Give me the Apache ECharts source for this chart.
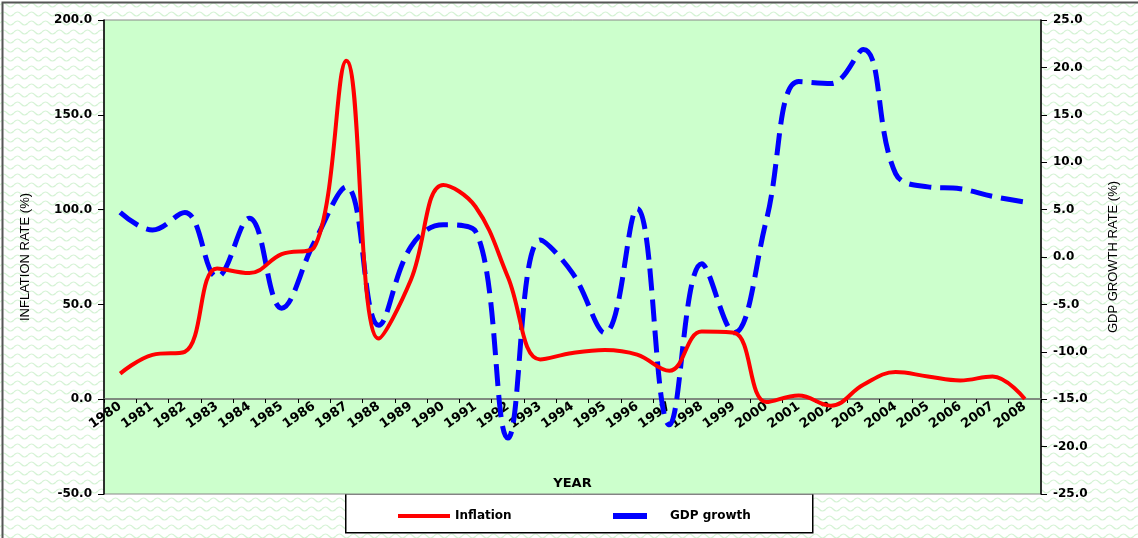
<!DOCTYPE html>
<html>
<head>
<meta charset="utf-8">
<script src="https://cdn.jsdelivr.net/npm/echarts@6/dist/echarts.min.js"></script>
<style>
  html, body { margin: 0; padding: 0; background: #fff; }
  #chart { width: 1138px; height: 538px; }
</style>
</head>
<body>
<div id="chart"></div>
<script>
// categories and values
const years = ['1980', '1981', '1982', '1983', '1984', '1985', '1986', '1987', '1988', '1989',
  '1990', '1991', '1992', '1993', '1994', '1995', '1996', '1997', '1998', '1999',
  '2000', '2001', '2002', '2003', '2004', '2005', '2006', '2007', '2008'];
const inflation = [13.5, 23.4, 25, 69, 66.5, 76.5, 80, 178.5, 32, 63,
  113, 101.5, 64.5, 21, 24.4, 26, 23.5, 15, 35.7, 35,
  -1.5, 2, -3.4, 7.6, 14.3, 12, 9.9, 12, 0.1];
const gdpGrowth = [4.7, 2.85, 4.7, -2.1, 4.1, -5.4, 1.5, 7.4, -7.2, 1.1,
  3.4, 2.7, -19.1, 1.8, -1.7, -8, 5.1, -17.7, -0.7, -8,
  3.9, 18.5, 18.3, 21.9, 8.8, 7.4, 7.2, 6.4, 5.8];

// pale wavy texture for the outer background
const pat = document.createElement('canvas');
pat.width = 14; pat.height = 9;
const pc = pat.getContext('2d');
pc.fillStyle = '#ffffff';
pc.fillRect(0, 0, 14, 9);
pc.strokeStyle = '#d6f3d6';
pc.lineWidth = 1.2;
pc.beginPath();
pc.moveTo(0, 5);
pc.quadraticCurveTo(3.5, 1, 7, 5);
pc.quadraticCurveTo(10.5, 9, 14, 5);
pc.stroke();

const chart = echarts.init(document.getElementById('chart'));
// the original text is wide and bold, DejaVu Sans is the closest match
const font = '"DejaVu Sans", Verdana, sans-serif';
const narrow = '"Liberation Sans Narrow", "Arial Narrow", Arial, sans-serif';

const option = {
  animation: false,
  backgroundColor: { image: pat, repeat: 'repeat' },
  grid: {
    left: 104, right: 97, top: 20, bottom: 44,
    containLabel: false, outerBoundsMode: 'none',
    show: true, backgroundColor: '#ccffcc', borderColor: '#888', borderWidth: 1
  },
  xAxis: {
    type: 'category',
    data: years,
    boundaryGap: true,
    position: 'bottom',
    offset: -95,   // sits on the 0.0 line of the left axis
    name: 'YEAR',
    nameLocation: 'middle',
    nameGap: 78,
    nameTextStyle: { fontFamily: font, fontWeight: 'bold', fontSize: 13, color: '#000' },
    axisLine: { onZero: false, lineStyle: { color: '#666', width: 1.5 } },
    axisTick: { show: true, length: 4, lineStyle: { color: '#000' } },
    axisLabel: { rotate: 35, margin: 6, fontFamily: font, fontWeight: 'bold', fontSize: 13, color: '#000' },
    splitLine: { show: false }
  },
  yAxis: [
    {
      type: 'value', min: -50, max: 200, interval: 50,
      name: 'INFLATION RATE (%)', nameLocation: 'middle', nameGap: 72, nameRotate: 90,
      nameTextStyle: { fontFamily: narrow, fontSize: 13, color: '#000' },
      axisLine: { show: true, onZero: false, lineStyle: { color: '#000', width: 1.5 } },
      axisTick: { show: true, length: 6, lineStyle: { color: '#000' } },
      axisLabel: { margin: 12, fontFamily: font, fontWeight: 'bold', fontSize: 12, color: '#000',
        formatter: v => v.toFixed(1) },
      splitLine: { show: false }
    },
    {
      type: 'value', min: -25, max: 25, interval: 5,
      name: 'GDP GROWTH RATE (%)', nameLocation: 'middle', nameGap: 66, nameRotate: 90,
      nameTextStyle: { fontFamily: narrow, fontSize: 13, color: '#000' },
      axisLine: { show: true, onZero: false, lineStyle: { color: '#000', width: 1.5 } },
      axisTick: { show: true, length: 6, lineStyle: { color: '#000' } },
      axisLabel: { margin: 12, fontFamily: font, fontWeight: 'bold', fontSize: 12, color: '#000',
        formatter: v => v.toFixed(1) },
      splitLine: { show: false }
    }
  ],
  legend: [
    {
      data: ['Inflation'],
      left: 393, top: 505,
      icon: 'rect', itemWidth: 52, itemHeight: 4,
      textStyle: { fontFamily: font, fontWeight: 'bold', fontSize: 12, color: '#000' }
    },
    {
      data: ['GDP growth'],
      left: 608, top: 505,
      icon: 'rect', itemWidth: 34, itemHeight: 6,
      textStyle: { fontFamily: font, fontWeight: 'bold', fontSize: 12, color: '#000', padding: [0, 0, 0, 18] }
    }
  ],
  graphic: [
    {
      type: 'rect', z: -1, left: 345, top: 493,
      shape: { width: 467, height: 39 },
      style: { fill: '#fff', stroke: '#000', lineWidth: 1.5 }
    },
    {
      type: 'rect', z: -2, left: 0, top: 0, silent: true,
      shape: { width: 1137, height: 537 },
      style: { fill: 'none', stroke: '#555', lineWidth: 2 }
    }
  ],
  series: [
    {
      name: 'GDP growth',
      type: 'line',
      yAxisIndex: 1,
      data: gdpGrowth,
      smooth: 0.4,
      showSymbol: false,
      color: '#0000ff',
      lineStyle: { color: '#0000ff', width: 5, type: [22, 9] }
    },
    {
      name: 'Inflation',
      type: 'line',
      yAxisIndex: 0,
      data: inflation,
      smooth: 0.4,
      showSymbol: false,
      color: '#ff0000',
      lineStyle: { color: '#ff0000', width: 4 }
    }
  ]
};

chart.setOption(option);
</script>
</body>
</html>
